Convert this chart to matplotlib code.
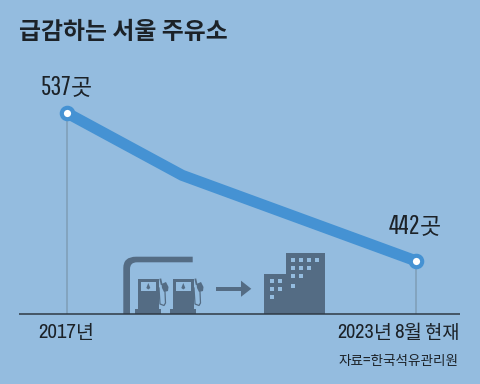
#!/usr/bin/env python3
import numpy as np
import matplotlib
matplotlib.use('Agg')
import matplotlib.pyplot as plt
from matplotlib.patches import Rectangle, Polygon, PathPatch
from matplotlib.path import Path

plt.rcParams['font.family'] = ['Noto Sans CJK KR', 'DejaVu Sans']
NARROW = ['Pathway Gothic One', 'Archivo Narrow', 'Liberation Sans']
SEMI = ['Archivo Narrow', 'Liberation Sans']
KOR = ['Noto Sans CJK KR', 'DejaVu Sans']

years = [2017, 2019.2, 2023.67]
stations = [537, 497, 442]
label_idx = [0, 2]
value_labels = ['537', '442']
unit_label = '곳'

BG = '#94bcdf'
LINE = '#4592d3'
ICON = '#546c84'
DARK = '#1c2228'

fig = plt.figure(figsize=(4.8, 3.84), dpi=100, facecolor=BG)

# 데이터 축: 전체 그림을 채움
ax = fig.add_axes([0, 0, 1, 1])
ax.set_xlim(2017 - 67 / 52.35, 2017 + 413 / 52.35)
ax.set_ylim(537 - 271 / 1.558, 537 + 113 / 1.558)
ax.axis('off')

for i in label_idx:
    ax.plot([years[i], years[i]], [stations[i], 537 - 201 / 1.558],
            color='#7f9db6', lw=1.1, zorder=1, solid_capstyle='butt')
ax.plot(years, stations, color=LINE, lw=8, zorder=2, solid_joinstyle='miter', solid_capstyle='butt')
ax.plot([years[i] for i in label_idx], [stations[i] for i in label_idx], 'o',
        ms=8.2, mfc='white', mec=LINE, mew=3, zorder=3)

# 장식 축: 픽셀 좌표
px = fig.add_axes([0, 0, 1, 1])
px.set_xlim(0, 480)
px.set_ylim(384, 0)
px.axis('off')
px.patch.set_alpha(0)


def num(x, y, s, size, fam=NARROW):
    px.text(x, y, s, fontsize=size, color=DARK, family=fam, ha='right', va='center_baseline')


def kor(x, y, s, size):
    px.text(x, y, s, fontsize=size, color=DARK, family=KOR, ha='left', va='center_baseline')


px.text(19, 32, '급감하는 서울 주유소', fontsize=17.2, fontweight='bold', color=DARK,
        family=KOR, ha='left', va='center')

num(71, 85, value_labels[0], 19.5)
kor(71, 85, unit_label, 16.5)
num(420, 224.5, value_labels[1], 19.5)
kor(420, 224.5, unit_label, 16.5)

num(76, 331, '2017', 15, SEMI)
kor(76, 331, '년', 14)
num(374, 331, '2023', 14.5, SEMI)
kor(374, 331, '년', 14)
num(403.5, 331, '8', 15, SEMI)
kor(403.5, 331, '월', 14)
kor(425, 331, '현재', 13.5)
px.text(459, 361.5, '자료=한국석유관리원', fontsize=9.8, color=DARK, family=KOR, ha='right', va='center')

# 캐노피
verts = [(123.3, 314), (123.3, 268), (123.3, 256.7), (136, 256.7), (192.7, 256.7), (192.7, 262.3),
         (137, 262.3), (130, 262.3), (130, 269), (130, 314), (123.3, 314)]
codes = [Path.MOVETO, Path.LINETO, Path.CURVE3, Path.CURVE3, Path.LINETO, Path.LINETO,
         Path.LINETO, Path.CURVE3, Path.CURVE3, Path.LINETO, Path.CLOSEPOLY]
px.add_patch(PathPatch(Path(verts, codes), fc=ICON, ec='none'))

# 주유기 두 대
for dx in [0, 35]:
    px.add_patch(Rectangle((138 + dx, 279.3), 20.7, 30, fc=ICON, ec='none'))
    px.add_patch(Rectangle((135.3 + dx, 309), 25.4, 5, fc=ICON, ec='none'))
    px.add_patch(Rectangle((140.7 + dx, 281.7), 15.3, 9, fc=BG, ec='none'))
    px.add_patch(Polygon([(148.3 + dx, 283), (150.3 + dx, 288), (148.3 + dx, 289.5), (146.3 + dx, 288)],
                         fc=ICON, ec='none'))
    # 호스
    hose = np.array([(159, 288), (160, 304), (164, 305.5), (165.5, 303), (165, 292)])
    px.plot(hose[:, 0] + dx, hose[:, 1], color=ICON, lw=0.9)
    # 노즐
    px.add_patch(Polygon([(161.5 + dx, 284), (166 + dx, 282), (168.5 + dx, 287), (168 + dx, 291),
                          (164 + dx, 292), (162 + dx, 288)], fc=ICON, ec='none'))
    px.plot([161.5 + dx, 160.5 + dx], [284, 279.5], color=ICON, lw=1.3)

# 화살표
px.add_patch(Rectangle((216, 286.7), 26, 4.4, fc=ICON, ec='none'))
px.add_patch(Polygon([(241, 280.7), (251.3, 288.8), (241, 296.8)], fc=ICON, ec='none'))

# 빌딩
px.add_patch(Rectangle((264.3, 274.3), 23, 39.7, fc=ICON, ec='none'))
px.add_patch(Rectangle((286, 253.3), 39.3, 60.7, fc=ICON, ec='none'))
for wx, wy in [(290.7, 257.7), (299, 257.7), (307, 257.7), (315, 257.7),
               (290.7, 265.7), (299, 265.7), (307, 265.7),
               (290.7, 274), (299, 274), (290.7, 283.7),
               (270, 279), (278, 279), (270, 287), (278, 287), (270, 295.3)]:
    px.add_patch(Rectangle((wx, wy), 4, 4, fc=BG, ec='none'))

# 기준선
px.plot([19, 460], [314.3, 314.3], color='#2f3a45', lw=1.1, solid_capstyle='butt')

fig.savefig('out.png', dpi=100, facecolor=BG)
